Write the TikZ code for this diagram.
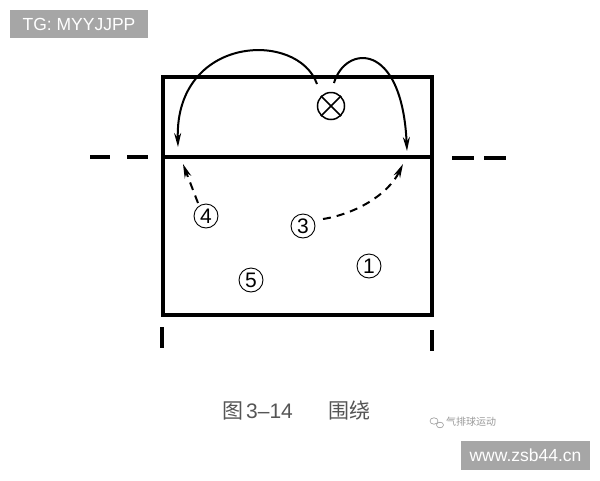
\documentclass[tikz,border=0pt]{standalone}
\usepackage{fontspec}
\setmainfont{Liberation Sans}
\newfontfamily\cjk{Noto Sans CJK SC}
\usetikzlibrary{arrows.meta}
\definecolor{tagbg}{HTML}{A6A6A6}
\definecolor{captxt}{HTML}{555555}
\definecolor{wmtxt}{HTML}{9A9A9A}
\tikzset{
  court/.style={line width=3.6pt},
  marks/.style={line width=3.6pt},
  movearrow/.style={line width=2pt,-{Stealth[length=14pt,width=7pt]}},
  runarrow/.style={line width=2pt,dash pattern=on 8pt off 6pt,-{Stealth[length=14pt,width=7pt]}},
  player/.style={circle,draw,line width=0.9pt,minimum size=24pt,inner sep=0pt,font=\fontsize{21}{21}\selectfont},
  tagbox/.style={fill=tagbg,text=white,inner sep=0pt,font=\fontsize{17.5}{17.5}\selectfont},
  captext/.style={text=captxt,font=\fontsize{21}{21}\selectfont,inner sep=0pt},
}
\begin{document}
\begin{tikzpicture}[x=1pt,y=-1pt]
\useasboundingbox (0,0) rectangle (600,480);
\fill[white] (0,0) rectangle (600,480);
% tags
\node[tagbox,minimum width=138pt,minimum height=28pt] (tg) at (79,24) {TG: MYYJJPP};
\node[tagbox,minimum width=129pt,minimum height=29pt] (www) at (525.5,455.5) {www.zsb44.cn};
% court
\draw[court] (163,77) rectangle (432,315);
\coordinate (netL) at (163,157);
\coordinate (netR) at (432,157);
\draw[court] (netL) -- (netR);
% side dashes
\draw[marks] (90,157) -- (110,157);
\draw[marks] (127,157) -- (148,157);
\draw[marks] (452,158) -- (474,158);
\draw[marks] (484,158) -- (506,158);
% bottom ticks
\draw[marks] (162,327) -- (162,348);
\draw[marks] (432,330) -- (432,351);
% server
\node[circle,draw,line width=1.5pt,minimum size=27pt,inner sep=0pt] (srv) at (331,106) {};
\draw[line width=1.5pt] (srv.north west) -- (srv.south east);
\draw[line width=1.5pt] (srv.north east) -- (srv.south west);
\coordinate (sL) at (317,84);
\coordinate (sR) at (334,83);
\coordinate (eL) at (178,147);
\coordinate (eR) at (407,151);
\draw[movearrow] (sL) .. controls (298,30) and (175,35) .. (eL);
\draw[movearrow] (sR) .. controls (345,45) and (402,40) .. (eR);
% players
\node[player] (p4) at (206,216) {4};
\node[player] (p3) at (303,226) {3};
\node[player] (p1) at (369,266) {1};
\node[player] (p5) at (251,280) {5};
\coordinate (t4) at (183,164);
\coordinate (t3) at (403,164);
\draw[runarrow] (198,203) -- (t4);
\draw[runarrow] (323,219) .. controls (355,214) and (388,195) .. (t3);
% caption
\node[captext,anchor=west] (cap1) at (222,411) {{\cjk 图}};
\node[captext,anchor=west] (cap2) at (246,411) {3–14};
\node[captext,anchor=west] (cap3) at (328,411) {{\cjk 围绕}};
% watermark
\draw[wmtxt,line width=0.6pt] (434,421) ellipse (4pt and 3.2pt);
\draw[wmtxt,line width=0.6pt] (440,425) ellipse (3.5pt and 2.8pt);
\node[text=wmtxt,font=\cjk\fontsize{10}{10}\selectfont,anchor=west,inner sep=0pt] (wm) at (446,422) {气排球运动};
\end{tikzpicture}
\end{document}
